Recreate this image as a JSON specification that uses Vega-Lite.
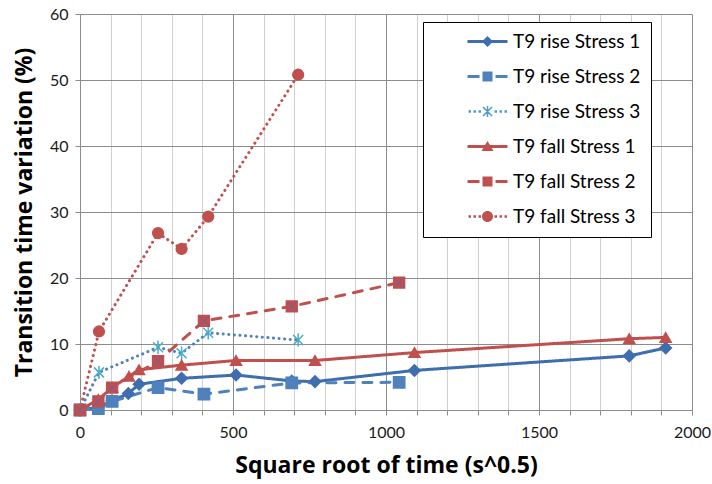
{
  "$schema": "https://vega.github.io/schema/vega-lite/v6.json",
  "width": 612,
  "height": 396,
  "autosize": {"type": "none"},
  "padding": {"left": 80, "top": 14, "right": 20, "bottom": 74},
  "background": "white",
  "config": {"view": {"stroke": null}, "font": "Lato"},
  "data": {"values": [
    {"series": "T9 rise Stress 1", "x": 0, "y": 0},
    {"series": "T9 rise Stress 1", "x": 60, "y": 0.4},
    {"series": "T9 rise Stress 1", "x": 105, "y": 1.4},
    {"series": "T9 rise Stress 1", "x": 158, "y": 2.5},
    {"series": "T9 rise Stress 1", "x": 193, "y": 3.9},
    {"series": "T9 rise Stress 1", "x": 332, "y": 4.8},
    {"series": "T9 rise Stress 1", "x": 510, "y": 5.3},
    {"series": "T9 rise Stress 1", "x": 692, "y": 4.4},
    {"series": "T9 rise Stress 1", "x": 768, "y": 4.3},
    {"series": "T9 rise Stress 1", "x": 1093, "y": 6.0},
    {"series": "T9 rise Stress 1", "x": 1795, "y": 8.2},
    {"series": "T9 rise Stress 1", "x": 1914, "y": 9.4},
    {"series": "T9 rise Stress 2", "x": 0, "y": 0},
    {"series": "T9 rise Stress 2", "x": 60, "y": 0.2},
    {"series": "T9 rise Stress 2", "x": 105, "y": 1.3},
    {"series": "T9 rise Stress 2", "x": 255, "y": 3.4},
    {"series": "T9 rise Stress 2", "x": 405, "y": 2.4},
    {"series": "T9 rise Stress 2", "x": 692, "y": 4.1},
    {"series": "T9 rise Stress 2", "x": 1043, "y": 4.2},
    {"series": "T9 rise Stress 3", "x": 0, "y": 0},
    {"series": "T9 rise Stress 3", "x": 62, "y": 5.7},
    {"series": "T9 rise Stress 3", "x": 255, "y": 9.5},
    {"series": "T9 rise Stress 3", "x": 332, "y": 8.6},
    {"series": "T9 rise Stress 3", "x": 419, "y": 11.7},
    {"series": "T9 rise Stress 3", "x": 713, "y": 10.6},
    {"series": "T9 fall Stress 1", "x": 0, "y": 0},
    {"series": "T9 fall Stress 1", "x": 60, "y": 1.6},
    {"series": "T9 fall Stress 1", "x": 105, "y": 3.4},
    {"series": "T9 fall Stress 1", "x": 160, "y": 5.1},
    {"series": "T9 fall Stress 1", "x": 193, "y": 6.1},
    {"series": "T9 fall Stress 1", "x": 332, "y": 6.8},
    {"series": "T9 fall Stress 1", "x": 510, "y": 7.5},
    {"series": "T9 fall Stress 1", "x": 768, "y": 7.5},
    {"series": "T9 fall Stress 1", "x": 1093, "y": 8.7},
    {"series": "T9 fall Stress 1", "x": 1795, "y": 10.8},
    {"series": "T9 fall Stress 1", "x": 1914, "y": 11.0},
    {"series": "T9 fall Stress 2", "x": 0, "y": 0},
    {"series": "T9 fall Stress 2", "x": 60, "y": 1.3},
    {"series": "T9 fall Stress 2", "x": 105, "y": 3.4},
    {"series": "T9 fall Stress 2", "x": 255, "y": 7.4},
    {"series": "T9 fall Stress 2", "x": 405, "y": 13.5},
    {"series": "T9 fall Stress 2", "x": 692, "y": 15.7},
    {"series": "T9 fall Stress 2", "x": 1043, "y": 19.3},
    {"series": "T9 fall Stress 3", "x": 0, "y": 0},
    {"series": "T9 fall Stress 3", "x": 62, "y": 11.9},
    {"series": "T9 fall Stress 3", "x": 255, "y": 26.8},
    {"series": "T9 fall Stress 3", "x": 332, "y": 24.4},
    {"series": "T9 fall Stress 3", "x": 419, "y": 29.3},
    {"series": "T9 fall Stress 3", "x": 713, "y": 50.8}
  ]},
  "encoding": {
    "x": {
      "field": "x", "type": "quantitative",
      "scale": {"domain": [0, 2000], "nice": false},
      "axis": {
        "title": "Square root of time (s^0.5)",
        "values": [0,100,200,300,400,500,600,700,800,900,1000,1100,1200,1300,1400,1500,1600,1700,1800,1900,2000],
        "labelExpr": "datum.value % 500 === 0 ? datum.label : ''",
        "labelOverlap": false,
        "labelFlush": false,
        "format": "d",
        "labelFont": "Lato", "labelFontSize": 16, "labelColor": "#1a1a1a",
        "labelPadding": 9,
        "titleFont": "Open Sans", "titleFontSize": 23, "titleFontWeight": "bold", "titleColor": "#000000",
        "titlePadding": 14,
        "grid": true,
        "gridColor": {"condition": {"test": "datum.value % 500 === 0", "value": "#8c8c8c"}, "value": "#d0d0d0"},
        "gridWidth": 1,
        "domainColor": "#8c8c8c",
        "tickColor": "#8c8c8c", "tickSize": 5
      }
    },
    "y": {
      "field": "y", "type": "quantitative",
      "scale": {"domain": [0, 60], "nice": false},
      "axis": {
        "title": "Transition time variation (%)",
        "values": [0,10,20,30,40,50,60],
        "labelFont": "Lato", "labelFontSize": 16, "labelColor": "#1a1a1a",
        "labelPadding": 7,
        "titleFont": "Open Sans", "titleFontSize": 23, "titleFontWeight": "bold", "titleColor": "#000000",
        "titlePadding": 13,
        "grid": true, "gridColor": "#8c8c8c", "gridWidth": 1,
        "domainColor": "#8c8c8c",
        "tickColor": "#8c8c8c", "tickSize": 5
      }
    }
  },
  "layer": [
    {
      "mark": {"type": "line", "strokeWidth": 3, "strokeCap": "round", "strokeJoin": "round"},
      "encoding": {
        "detail": {"field": "series"},
        "color": {"field": "series", "type": "nominal", "legend": null,
          "scale": {"domain": ["T9 rise Stress 1","T9 rise Stress 2","T9 rise Stress 3","T9 fall Stress 1","T9 fall Stress 2","T9 fall Stress 3"],
                    "range": ["#3F6EAE","#4F81BD","#4F81BD","#C0504D","#C0504D","#C0504D"]}},
        "strokeDash": {"field": "series", "type": "nominal", "legend": null,
          "scale": {"domain": ["T9 rise Stress 1","T9 rise Stress 2","T9 rise Stress 3","T9 fall Stress 1","T9 fall Stress 2","T9 fall Stress 3"],
                    "range": [[1,0],[9,9],[0.1,5.5],[1,0],[9,9],[0.1,5.5]]}}
      }
    },
    {
      "mark": {"type": "point", "filled": true, "opacity": 1, "strokeWidth": 1.5},
      "encoding": {
        "fill": {"field": "series", "type": "nominal", "legend": null,
          "scale": {"domain": ["T9 rise Stress 1","T9 rise Stress 2","T9 rise Stress 3","T9 fall Stress 1","T9 fall Stress 2","T9 fall Stress 3"],
                    "range": ["#3F6EAE","#4F81BD","#4BACC6","#C0504D","#C0504D","#C0504D"]}},
        "stroke": {"field": "series", "type": "nominal", "legend": null,
          "scale": {"domain": ["T9 rise Stress 1","T9 rise Stress 2","T9 rise Stress 3","T9 fall Stress 1","T9 fall Stress 2","T9 fall Stress 3"],
                    "range": ["#3F6EAE","#4F81BD","#4BACC6","#C0504D","#C0504D","#C0504D"]}},
        "shape": {"field": "series", "type": "nominal", "legend": null,
          "scale": {"domain": ["T9 rise Stress 1","T9 rise Stress 2","T9 rise Stress 3","T9 fall Stress 1","T9 fall Stress 2","T9 fall Stress 3"],
                    "range": ["diamond","square","M-0.9,-0.9L0.9,0.9M-0.9,0.9L0.9,-0.9M0,-1.2L0,1.2","triangle-up","square","circle"]}},
        "size": {"field": "series", "type": "nominal", "legend": null,
          "scale": {"domain": ["T9 rise Stress 1","T9 rise Stress 2","T9 rise Stress 3","T9 fall Stress 1","T9 fall Stress 2","T9 fall Stress 3"],
                    "range": [130, 115, 144, 130, 115, 144]}}
      }
    },
    {
      "transform": [{"filter": "datum.series === 'T9 fall Stress 2'"}],
      "mark": {"type": "point", "filled": false, "shape": "M-1,-1L1,1M-1,1L1,-1", "size": 105, "stroke": "#6A5FA8", "strokeWidth": 1, "opacity": 1},
      "encoding": {}
    },
    {
      "transform": [{"filter": "datum.x < 0"}],
      "mark": {"type": "point", "filled": true, "opacity": 1, "size": 100},
      "encoding": {
        "color": {"field": "series", "type": "nominal",
          "scale": {"domain": ["T9 rise Stress 1","T9 rise Stress 2","T9 rise Stress 3","T9 fall Stress 1","T9 fall Stress 2","T9 fall Stress 3"],
                    "range": ["#3F6EAE","#4F81BD","#4F9CC6","#C0504D","#C0504D","#C0504D"]},
          "legend": {
            "title": null, "orient": "none", "legendX": 343, "legendY": 8,
            "fillColor": "white", "strokeColor": "#000000", "padding": 10,
            "labelFont": "Lato", "labelFontSize": 19, "labelColor": "#000000",
            "labelExpr": "datum.label + '  '",
            "symbolSize": 100, "symbolStrokeWidth": 0, "symbolOpacity": 1,
            "labelOffset": 61, "rowPadding": 15, "labelLimit": 300
          }},
        "shape": {"field": "series", "type": "nominal",
          "scale": {"domain": ["T9 rise Stress 1","T9 rise Stress 2","T9 rise Stress 3","T9 fall Stress 1","T9 fall Stress 2","T9 fall Stress 3"],
                    "range": [
                      "M5,-0.3H13V0.3H5ZM9,-1.1L10.1,0L9,1.1L7.9,0Z",
                      "M5,-0.3H7.4V0.3H5ZM10.6,-0.3H13V0.3H10.6ZM8,-1H10V1H8Z",
                      "M5.2,-0.25h0.5v0.5h-0.5ZM6.2,-0.25h0.5v0.5h-0.5ZM7.2,-0.25h0.5v0.5h-0.5ZM10.4,-0.25h0.5v0.5h-0.5ZM11.4,-0.25h0.5v0.5h-0.5ZM12.4,-0.25h0.5v0.5h-0.5ZM8.85,-1.1H9.15V1.1H8.85ZM8.206,-1.006L10.006,0.794L9.794,1.006L7.994,-0.794ZM8.206,1.006L7.994,0.794L9.794,-1.006L10.006,-0.794Z",
                      "M5,-0.3H13V0.3H5ZM9,-1.1L10.2,0.9H7.8Z",
                      "M5,-0.3H7.4V0.3H5ZM10.6,-0.3H13V0.3H10.6ZM8,-1H10V1H8Z",
                      "M5.2,-0.25h0.5v0.5h-0.5ZM6.2,-0.25h0.5v0.5h-0.5ZM7.2,-0.25h0.5v0.5h-0.5ZM10.4,-0.25h0.5v0.5h-0.5ZM11.4,-0.25h0.5v0.5h-0.5ZM12.4,-0.25h0.5v0.5h-0.5ZM10.1,0A1.1,1.1 0 1,1 7.9,0A1.1,1.1 0 1,1 10.1,0Z"
                    ]}}
      }
    }
  ],
  "resolve": {"scale": {"color": "independent", "fill": "independent", "stroke": "independent", "shape": "independent", "size": "independent", "strokeDash": "independent"}}
}
